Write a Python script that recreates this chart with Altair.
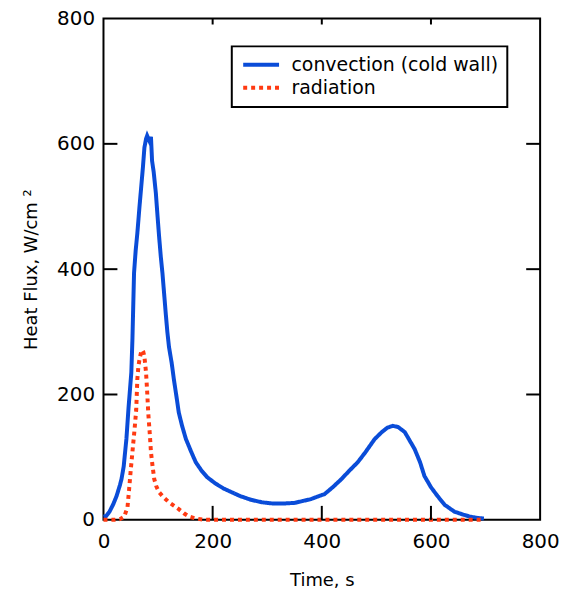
import altair as alt
import pandas as pd

# Convection (cold wall) heat flux, W/cm^2 vs time, s
conv_t = [0, 5, 11, 18, 24, 30, 33, 37, 42, 46, 51, 53, 56, 59, 62, 66, 69, 72, 75, 78, 80, 84, 87,
          89, 92, 96, 99, 102, 105, 108, 111, 114, 117, 120, 125, 129, 134, 138, 144, 151, 160, 169,
          180, 190, 205, 220, 235, 250, 270, 290, 310, 330, 350, 365, 380, 395, 405, 420, 436, 450,
          466, 480, 497, 510, 520, 530, 540, 552, 560, 570, 580, 588, 600, 612, 625, 643, 660, 672,
          685, 697]
conv_q = [5, 6, 13, 25, 38, 55, 65, 85, 129, 180, 235, 287, 394, 430, 457, 500, 530, 560, 594, 608,
          613, 605, 611, 573, 555, 521, 485, 451, 420, 394, 362, 330, 300, 276, 250, 224, 195, 171,
          150, 129, 110, 92, 78, 68, 58, 50, 44, 38, 32, 28, 26, 26, 27, 30, 33, 38, 41, 52, 65, 78,
          92, 108, 129, 140, 147, 150, 148, 140, 128, 113, 92, 70, 52, 38, 24, 13, 8, 5, 3, 2]

# Radiation heat flux
rad_t = [0, 20, 30, 38, 44, 47, 50, 53, 57, 60, 62, 64, 66, 69, 71, 73, 75, 78, 80, 82, 85, 87, 90,
         93, 97, 102, 110, 120, 130, 138, 148, 157, 170, 185, 400, 695]
rad_q = [0, 0, 1, 5, 20, 49, 80, 108, 145, 176, 224, 245, 256, 268, 271, 268, 260, 235, 205, 171,
         135, 108, 85, 65, 53, 44, 36, 28, 22, 17, 10, 5, 2, 0, 0, 0]

series_names = ["convection (cold wall)", "radiation"]
series_colors = ["#0a4cd8", "#ff3a12"]
tick_values = [0, 200, 400, 600, 800]
inner_ticks = [200, 400, 600]

df = pd.concat([
    pd.DataFrame({"t": conv_t, "q": conv_q, "series": series_names[0], "o": range(len(conv_t))}),
    pd.DataFrame({"t": rad_t, "q": rad_q, "series": series_names[1], "o": range(len(rad_t))}),
])
ticks_df = pd.DataFrame({"v": inner_ticks})

W, H = 439, 504
FONT = "DejaVu Sans"
ytitle = "Heat Flux, W/cm \u00b2"
xtitle = "Time, s"

xscale = alt.Scale(domain=[0, 800], nice=False, zero=False)
yscale = alt.Scale(domain=[0, 800], nice=False, zero=False)

xaxis = alt.Axis(values=tick_values, tickSize=0, domain=False, grid=False,
                 labelFontSize=20, labelFont=FONT, labelPadding=12, labelColor="black",
                 title=xtitle, titleFont=FONT, titleFontSize=18, titleFontWeight="normal",
                 titlePadding=20, titleColor="black", labelFlush=False)
yaxis = alt.Axis(values=tick_values, tickSize=0, domain=False, grid=False,
                 labelFontSize=20, labelFont=FONT, labelPadding=9, labelColor="black",
                 title=ytitle, titleFont=FONT, titleFontSize=18, titleFontWeight="normal",
                 titlePadding=16, titleColor="black", labelFlush=False)

legend_opts = dict(title=None, orient="none", legendX=129, legendY=28,
                   symbolType="stroke", symbolSize=1300, symbolStrokeWidth=4,
                   labelFontSize=19, labelFont=FONT, labelColor="black", labelLimit=400,
                   labelExpr="datum.label + ' '",
                   labelOffset=10, padding=9, rowPadding=3, clipHeight=19,
                   strokeColor="black", fillColor="white")

lines = alt.Chart(df).mark_line(strokeWidth=4, strokeCap="butt", strokeJoin="miter").encode(
    x=alt.X("t:Q", scale=xscale, axis=xaxis),
    y=alt.Y("q:Q", scale=yscale, axis=yaxis),
    color=alt.Color("series:N", scale=alt.Scale(domain=series_names, range=series_colors),
                    legend=alt.Legend(**legend_opts)),
    strokeDash=alt.StrokeDash("series:N",
                              scale=alt.Scale(domain=series_names, range=[[1, 0], [4, 4]]),
                              legend=alt.Legend(**legend_opts)),
    order="o:Q",
)

rule = dict(color="black", strokeWidth=2)
left_ticks = alt.Chart(ticks_df).mark_rule(**rule).encode(
    y=alt.Y("v:Q", scale=yscale, axis=yaxis), x=alt.value(0), x2=alt.value(14))
right_ticks = alt.Chart(ticks_df).mark_rule(**rule).encode(
    y=alt.Y("v:Q", scale=yscale, axis=yaxis), x=alt.value(W - 14), x2=alt.value(W))
bottom_ticks = alt.Chart(ticks_df).mark_rule(**rule).encode(
    x=alt.X("v:Q", scale=xscale, axis=xaxis), y=alt.value(H - 14), y2=alt.value(H))
top_ticks = alt.Chart(ticks_df).mark_rule(**rule).encode(
    x=alt.X("v:Q", scale=xscale, axis=xaxis), y=alt.value(0), y2=alt.value(6))

chart = alt.layer(lines, left_ticks, right_ticks, bottom_ticks, top_ticks).properties(
    width=W, height=H,
    autosize=alt.AutoSizeParams(type="none"),
    padding={"left": 96, "top": 9, "right": 22, "bottom": 72},
).configure_view(stroke="black", strokeWidth=2).configure_legend(strokeWidth=2)

chart.save("out.html", embed_options={"renderer": "svg", "actions": False})
